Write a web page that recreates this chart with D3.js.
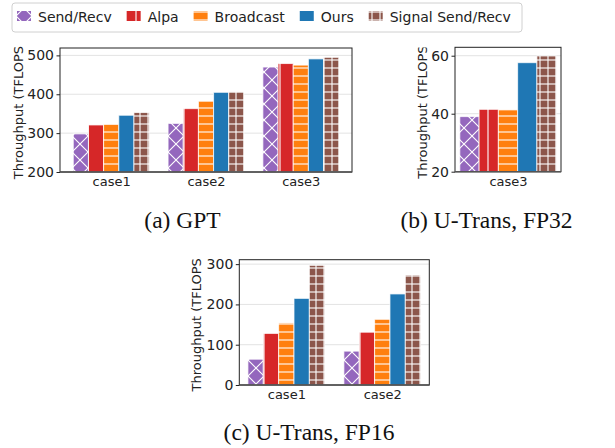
<!DOCTYPE html>
<html>
<head>
<meta charset="utf-8">
<script src="https://cdn.jsdelivr.net/npm/d3@7"></script>
<style>
  body { margin: 0; background: #fff; }
  svg { display: block; }
  .tick text { font-family: "DejaVu Sans", sans-serif; fill: #222; }
  .caption { font-family: "Liberation Serif", "Times New Roman", serif; fill: #111; }
</style>
</head>
<body>
<svg id="fig" width="615" height="448"></svg>
<script>
// methods / legend
var methods = ["Send/Recv", "Alpa", "Broadcast", "Ours", "Signal Send/Recv"];
var colors = ["#9467bd", "#d62728", "#ff7f0e", "#1f77b4", "#8c564b"];
var hatches = ["x", "|", "-", "", "+"];

// (a) GPT
var gptCases = ["case1", "case2", "case3"];
var gptValues = [
  [298, 321, 323, 346, 353],
  [325, 363, 382, 405, 406],
  [470, 479, 475, 491, 495]
];
var gptTicks = [200, 300, 400, 500];

// (b) U-Trans FP32
var fp32Cases = ["case3"];
var fp32Values = [
  [39, 41.5, 41.3, 57.6, 59.9]
];
var fp32Ticks = [20, 40, 60];

// (c) U-Trans FP16
var fp16Cases = ["case1", "case2"];
var fp16Values = [
  [64, 128, 154, 215, 297],
  [84, 131, 163, 226, 273]
];
var fp16Ticks = [0, 100, 200, 300];

var svg = d3.select("#fig");
var defs = svg.append("defs");

// hatch patterns, white lines on the series colour
hatches.forEach(function(h, i) {
  if (!h) return;
  var p = (h == "x" || h == "|") ? 16 : 8;
  var pat = defs.append("pattern")
      .attr("id", "hatch" + i)
      .attr("patternUnits", "userSpaceOnUse")
      .attr("width", p).attr("height", p);
  pat.append("rect").attr("width", p).attr("height", p).attr("fill", colors[i]);
  var g = pat.append("g").attr("stroke", "#fff").attr("stroke-width", 1.1);
  if (h == "x") {
    g.append("path").attr("d", "M0,0L" + p + "," + p + "M0," + p + "L" + p + ",0" +
      "M-2,2L2,-2M" + (p - 2) + "," + (p + 2) + "L" + (p + 2) + "," + (p - 2) +
      "M-2," + (p - 2) + "L2," + (p + 2) + "M" + (p - 2) + ",-2L" + (p + 2) + ",2");
  }
  if (h == "|" || h == "+") {
    g.append("line").attr("x1", p / 2).attr("x2", p / 2).attr("y1", 0).attr("y2", p);
  }
  if (h == "-" || h == "+") {
    g.append("line").attr("y1", p / 2).attr("y2", p / 2).attr("x1", 0).attr("x2", p);
  }
});

function fillFor(i) {
  return hatches[i] ? "url(#hatch" + i + ")" : colors[i];
}

var barW = 0.16;

function drawPanel(cfg) {
  var n = cfg.cases.length;
  var span = (n - 1) + 5 * barW;
  var m = span * 0.05;
  var x = d3.scaleLinear()
      .domain([-2.5 * barW - m, (n - 1) + 2.5 * barW + m])
      .range([cfg.left, cfg.right]);
  var y = d3.scaleLinear()
      .domain(cfg.yDomain)
      .range([cfg.bottom, cfg.top]);

  var g = svg.append("g");

  // grid
  g.append("g")
    .selectAll("line")
    .data(cfg.ticks)
    .enter().append("line")
      .attr("x1", cfg.left).attr("x2", cfg.right)
      .attr("y1", function(d) { return y(d); })
      .attr("y2", function(d) { return y(d); })
      .attr("stroke", "#e3e3e3")
      .attr("stroke-width", 1);

  // bars
  g.append("g")
    .selectAll("g")
    .data(cfg.values)
    .enter().append("g")
    .selectAll("rect")
    .data(function(d, ci) {
      return d.map(function(v, k) { return {c: ci, k: k, v: v}; });
    })
    .enter().append("rect")
      .attr("x", function(d) { return x(d.c + (d.k - 2.5) * barW); })
      .attr("width", function(d) { return x(barW) - x(0); })
      .attr("y", function(d) { return y(d.v); })
      .attr("height", function(d) { return y(cfg.yDomain[0]) - y(d.v); })
      .attr("fill", function(d) { return fillFor(d.k); })
      .attr("stroke", "#fff")
      .attr("stroke-opacity", 0.75)
      .attr("stroke-width", 1);

  // frame
  g.append("rect")
    .attr("x", cfg.left).attr("y", cfg.top)
    .attr("width", cfg.right - cfg.left).attr("height", cfg.bottom - cfg.top)
    .attr("fill", "none")
    .attr("stroke", "#222")
    .attr("stroke-width", 1);
  g.append("line")
    .attr("x1", cfg.left).attr("x2", cfg.right)
    .attr("y1", cfg.bottom).attr("y2", cfg.bottom)
    .attr("stroke", "#555").attr("stroke-width", 1.6);

  // axes
  var ya = g.append("g")
      .attr("transform", "translate(" + cfg.left + ",0)")
      .call(d3.axisLeft(y).tickValues(cfg.ticks).tickSize(3.5).tickPadding(2.5).tickFormat(d3.format("d")));
  ya.select(".domain").remove();
  ya.selectAll(".tick line").attr("stroke", "#222");
  ya.selectAll(".tick text").attr("font-size", 14);

  var xa = g.append("g")
      .attr("transform", "translate(0," + cfg.bottom + ")")
      .call(d3.axisBottom(x).tickValues(d3.range(n)).tickSize(0).tickPadding(5)
        .tickFormat(function(d) { return cfg.cases[d]; }));
  xa.select(".domain").remove();
  xa.selectAll(".tick text").attr("font-size", 13);

  // y label, cut at the top like the source image
  var cid = "clip" + cfg.id;
  defs.append("clipPath").attr("id", cid)
    .append("rect")
      .attr("x", cfg.labelX - 20).attr("y", cfg.clipTop)
      .attr("width", 40).attr("height", 300);
  g.append("g")
    .attr("clip-path", "url(#" + cid + ")")
    .append("text")
      .attr("transform", "translate(" + cfg.labelX + "," + ((cfg.top + cfg.bottom) / 2) + ") rotate(-90)")
      .attr("text-anchor", "middle")
      .attr("font-family", "DejaVu Sans, sans-serif")
      .attr("font-size", 13)
      .attr("fill", "#222")
      .text("Throughput (TFLOPS)");

  g.append("text")
    .attr("class", "caption")
    .attr("x", cfg.capX).attr("y", cfg.capY)
    .attr("text-anchor", "middle")
    .attr("font-size", 23.5)
    .text(cfg.caption);
}

drawPanel({id: "a", cases: gptCases, values: gptValues, ticks: gptTicks,
  yDomain: [200, 519], left: 60, right: 352, top: 48, bottom: 172,
  labelX: 23, clipTop: 45, caption: "(a) GPT", capX: 182.5, capY: 227.5});
drawPanel({id: "b", cases: fp32Cases, values: fp32Values, ticks: fp32Ticks,
  yDomain: [20, 62.9], left: 455, right: 561, top: 47.3, bottom: 171.7,
  labelX: 427, clipTop: 47.5, caption: "(b) U-Trans, FP32", capX: 486.5, capY: 227.5});
drawPanel({id: "c", cases: fp16Cases, values: fp16Values, ticks: fp16Ticks,
  yDomain: [0, 311], left: 239.3, right: 429.3, top: 259.7, bottom: 385,
  labelX: 200.5, clipTop: 258, caption: "(c) U-Trans, FP16", capX: 309, capY: 440});

// legend
var legend = svg.append("g");
legend.append("rect")
  .attr("x", 12).attr("y", 3)
  .attr("width", 510).attr("height", 29)
  .attr("rx", 3)
  .attr("fill", "#fff")
  .attr("stroke", "#d0d0d0");

var lx = 17;
methods.forEach(function(name, i) {
  legend.append("rect")
    .attr("x", lx).attr("y", 11)
    .attr("width", 14).attr("height", 10)
    .attr("fill", fillFor(i));
  var t = legend.append("text")
    .attr("x", lx + 21).attr("y", 22)
    .attr("font-family", "DejaVu Sans, sans-serif")
    .attr("font-size", 14)
    .attr("fill", "#222")
    .text(name);
  lx += 21 + t.node().getComputedTextLength() + 15;
});
</script>
</body>
</html>
